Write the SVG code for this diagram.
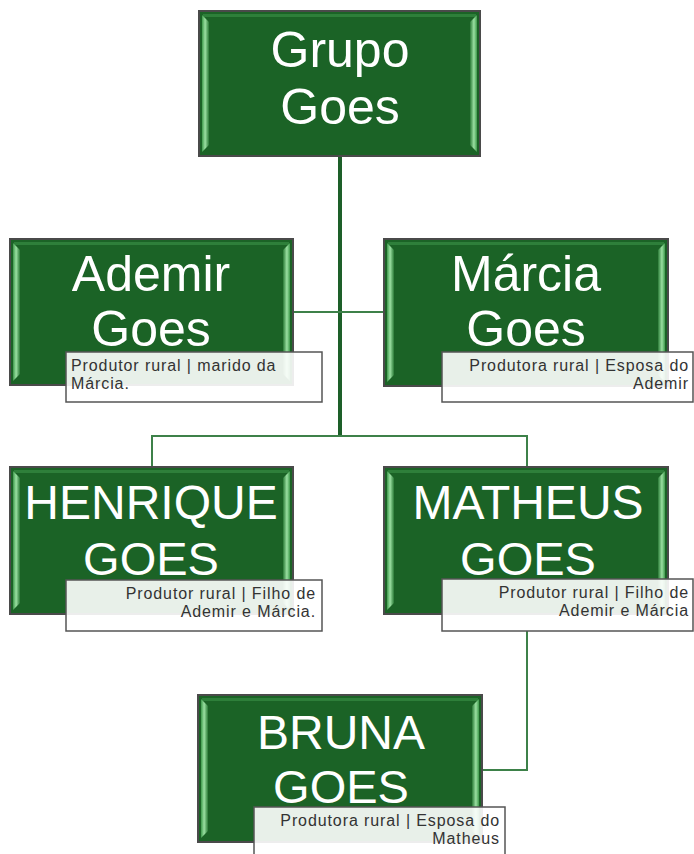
<svg xmlns="http://www.w3.org/2000/svg" width="694" height="854" viewBox="0 0 694 854">
<defs>
<linearGradient id="bevL" x1="0" y1="0" x2="1" y2="0">
<stop offset="0" stop-color="#3f9a4c"/><stop offset="0.45" stop-color="#9be0a2"/><stop offset="1" stop-color="#2a7a36"/>
</linearGradient>
<linearGradient id="bevR" x1="0" y1="0" x2="1" y2="0">
<stop offset="0" stop-color="#2a7a36"/><stop offset="0.55" stop-color="#9be0a2"/><stop offset="1" stop-color="#3f9a4c"/>
</linearGradient>
<style>
.box{fill:#1b6326;stroke:#4a4a4a;stroke-width:2}
.bl{fill:url(#bevL)}
.br{fill:url(#bevR)}
.bt{fill:#2e7f3a}
.name{font-family:"Liberation Sans",Arial,sans-serif;font-size:50px;fill:#ffffff;text-anchor:middle}
.lab{fill:#ffffff;fill-opacity:0.9;stroke:#555555;stroke-width:1.5}
.lt{font-family:"Liberation Sans",Arial,sans-serif;font-size:16px;letter-spacing:0.9px;fill:#333333}
.r{text-anchor:end}
.c1{stroke:#1d5f29;stroke-width:4;fill:none}
.c2{stroke:#3d8149;stroke-width:2;fill:none}
</style>
</defs>
<g id="connectors">
<line class="c1" x1="340" y1="157" x2="340" y2="437"/>
<line class="c2" x1="293" y1="312" x2="384" y2="312"/>
<polyline class="c2" points="152,467 152,436 527,436 527,467"/>
<polyline class="c2" points="527,631 527,770 482,770"/>
</g>
<g id="grupo">
<rect class="box" x="199" y="11" width="281" height="145"/>
<rect class="bt" x="203" y="14" width="273" height="3"/>
<polygon class="bl" points="202,15 209,22 209,145 202,152"/>
<polygon class="br" points="477,15 470,22 470,145 477,152"/>
<text class="name" x="340" y="67">Grupo</text>
<text class="name" x="340" y="124">Goes</text>
</g>
<g id="ademir">
<rect class="box" x="10" y="239" width="283" height="146"/>
<rect class="bt" x="14" y="242" width="275" height="3"/>
<polygon class="bl" points="13,243 20,250 20,374 13,381"/>
<polygon class="br" points="290,243 283,250 283,374 290,381"/>
<text class="name" x="151" y="291">Ademir</text>
<text class="name" x="151" y="346">Goes</text>
<rect class="lab" x="66" y="352" width="256" height="50"/>
<text class="lt" x="71" y="371">Produtor rural | marido da</text>
<text class="lt" x="71" y="389">Márcia.</text>
</g>
<g id="marcia">
<rect class="box" x="384" y="239" width="284" height="147"/>
<rect class="bt" x="388" y="242" width="276" height="3"/>
<polygon class="bl" points="387,243 394,250 394,375 387,382"/>
<polygon class="br" points="665,243 658,250 658,375 665,382"/>
<text class="name" x="526" y="291">Márcia</text>
<text class="name" x="526" y="346">Goes</text>
<rect class="lab" x="442" y="352" width="251" height="50"/>
<text class="lt r" x="689" y="371">Produtora rural | Esposa do</text>
<text class="lt r" x="689" y="389">Ademir</text>
</g>
<g id="henrique">
<rect class="box" x="10" y="467" width="283" height="147"/>
<rect class="bt" x="14" y="470" width="275" height="3"/>
<polygon class="bl" points="13,471 20,478 20,603 13,610"/>
<polygon class="br" points="290,471 283,478 283,603 290,610"/>
<text class="name" x="151" y="519" style="font-size:48px">HENRIQUE</text>
<text class="name" x="151" y="575" style="font-size:47px">GOES</text>
<rect class="lab" x="66" y="580" width="256" height="51"/>
<text class="lt r" x="316" y="599">Produtor rural | Filho de</text>
<text class="lt r" x="316" y="617">Ademir e Márcia.</text>
</g>
<g id="matheus">
<rect class="box" x="384" y="467" width="284" height="147"/>
<rect class="bt" x="388" y="470" width="276" height="3"/>
<polygon class="bl" points="387,471 394,478 394,603 387,610"/>
<polygon class="br" points="665,471 658,478 658,603 665,610"/>
<text class="name" x="528" y="519" style="font-size:48px">MATHEUS</text>
<text class="name" x="528" y="575" style="font-size:47px">GOES</text>
<rect class="lab" x="442" y="579" width="251" height="52"/>
<text class="lt r" x="689" y="598">Produtor rural | Filho de</text>
<text class="lt r" x="689" y="616">Ademir e Márcia</text>
</g>
<g id="bruna">
<rect class="box" x="198" y="695" width="284" height="147"/>
<rect class="bt" x="202" y="698" width="276" height="3"/>
<polygon class="bl" points="201,699 208,706 208,831 201,838"/>
<polygon class="br" points="479,699 472,706 472,831 479,838"/>
<text class="name" x="341" y="749" style="font-size:48px">BRUNA</text>
<text class="name" x="341" y="803" style="font-size:47px">GOES</text>
<rect class="lab" x="254" y="807" width="251" height="52"/>
<text class="lt r" x="500" y="826">Produtora rural | Esposa do</text>
<text class="lt r" x="500" y="844">Matheus</text>
</g>
</svg>
